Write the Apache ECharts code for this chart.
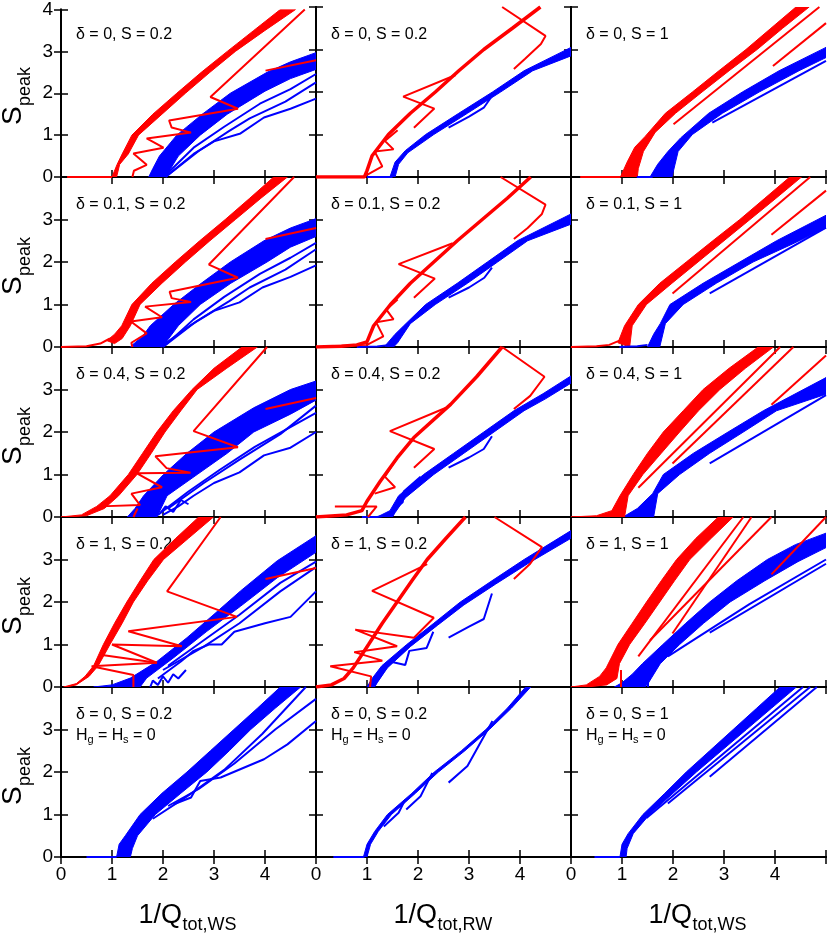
<!DOCTYPE html>
<html>
<head>
<meta charset="utf-8">
<script src="https://cdn.jsdelivr.net/npm/echarts@6/dist/echarts.min.js"></script>
<style>
html, body { margin: 0; padding: 0; background: #fff; }
#main { width: 830px; height: 937px; }
</style>
</head>
<body>
<div id="main"></div>
<script>
// tick values and labels
var xTicks = [0, 1, 2, 3, 4];
var yTicks = [0, 1, 2, 3, 4];
var xTitleSubs = ['tot,WS', 'tot,RW', 'tot,WS'];
var panelText = [
  'δ = 0, S = 0.2', 'δ = 0, S = 0.2', 'δ = 0, S = 1',
  'δ = 0.1, S = 0.2', 'δ = 0.1, S = 0.2', 'δ = 0.1, S = 1',
  'δ = 0.4, S = 0.2', 'δ = 0.4, S = 0.2', 'δ = 0.4, S = 1',
  'δ = 1, S = 0.2', 'δ = 1, S = 0.2', 'δ = 1, S = 1',
  'δ = 0, S = 0.2', 'δ = 0, S = 0.2', 'δ = 0, S = 1'
];

// ---- row 1 (delta = 0) ----
var bR11 = [[1.0,0],[1.1,0.3],[1.2,0.55],[1.39,1.0],[1.8,1.5],[2.27,2.0],[2.75,2.5],[3.26,3.0],[3.78,3.5],[4.3,4.0],[4.6,4.0],[4.0,3.5],[3.42,3.0],[2.92,2.5],[2.44,2.0],[1.98,1.5],[1.52,1.0],[1.32,0.55],[1.15,0.3],[1.09,0]];
var lR11 = [[[0.12,0],[1.0,0]], [[4.78,4.0],[2.93,1.91],[3.47,1.63],[2.12,1.35],[2.17,1.18],[2.55,1.06],[1.68,0.92],[2.01,0.7],[1.42,0.56],[1.68,0.29],[1.43,0.15],[1.4,0]], [[4.01,2.54],[5,2.79]]];
var bB11 = [[1.72,0],[1.8,0.2],[1.93,0.5],[2.27,1.0],[2.77,1.5],[3.32,2.0],[4.04,2.5],[4.5,2.75],[5,2.97],[5,2.57],[4.5,2.35],[4.0,2.05],[3.26,1.5],[2.73,1.0],[2.3,0.5],[2.15,0.2],[2.08,0]];
var lB11 = [[[2.1,0.1],[2.6,0.7],[3.2,1.2],[3.9,1.75],[4.5,2.1],[5,2.46]], [[2.1,0.05],[2.7,0.62],[3.3,1.1],[3.7,1.4],[4.4,1.8],[5,2.26]], [[2.05,0],[2.6,0.55],[3.0,0.85],[3.52,1.04],[3.98,1.42],[4.5,1.63],[5,1.87]]];

var mR12 = [[0,0],[0.95,0],[1.0,0.15],[1.1,0.5],[1.42,1.0],[1.85,1.5],[2.34,2.0],[2.8,2.5],[3.29,3.0],[3.85,3.5],[4.4,4.0]];
var lR12 = [[[3.88,2.54],[4.1,2.78],[4.41,3.13],[4.5,3.32],[3.65,4.0]], [[1.92,1.16],[2.32,1.61],[1.71,1.89],[2.74,2.4]], [[1.0,0.05],[1.3,0.25],[1.15,0.6],[1.52,0.65],[1.35,0.85],[1.6,1.1]]];
var bB12 = [[1.45,0],[1.55,0.35],[1.75,0.62],[2.15,1.0],[2.8,1.5],[3.46,2.0],[4.08,2.5],[5,3.05],[5,2.85],[4.25,2.5],[3.62,2.0],[2.97,1.5],[2.31,1.0],[1.8,0.57],[1.62,0.3],[1.55,0]];
var lB12 = [[[1.0,0],[1.5,0]], [[2.6,1.16],[3.0,1.42],[3.29,1.63],[3.43,1.87]]];

var bR13 = [[0.97,0],[1.1,0.35],[1.25,0.7],[1.45,0.95],[1.85,1.5],[2.38,2.0],[2.9,2.5],[3.43,3.0],[3.92,3.5],[4.41,4.0],[4.67,4.0],[4.15,3.5],[3.65,3.0],[3.1,2.5],[2.57,2.0],[2.05,1.5],[1.65,1.05],[1.42,0.6],[1.32,0.2],[1.3,0]];
var lR13 = [[[0.18,0],[0.97,0]], [[2.01,1.24],[4.87,4.0]], [[3.96,2.61],[5,3.62]]];
var bB13 = [[1.55,0],[1.7,0.3],[1.9,0.6],[2.15,0.92],[2.7,1.5],[3.36,2.0],[4.08,2.5],[5,3.05],[5,2.81],[4.47,2.5],[3.69,2.0],[2.97,1.5],[2.38,1.0],[2.1,0.6],[1.98,0]];
var lB13 = [[[1.29,0],[1.6,0]], [[2.77,1.28],[5,2.73]]];

// ---- row 2 (delta = 0.1) ----
var bR21 = [[0.9,0.15],[1.05,0.3],[1.19,0.5],[1.39,1.0],[1.78,1.5],[2.24,2.0],[2.72,2.5],[3.22,3.0],[3.7,3.5],[4.17,4.0],[4.44,4.0],[3.92,3.5],[3.42,3.0],[2.92,2.5],[2.44,2.0],[1.98,1.5],[1.55,1.0],[1.36,0.5],[1.2,0.2],[1.05,0.08]];
var lR21 = [[[0,0],[0.5,0.02],[0.77,0.08],[0.96,0.2]], [[4.57,4.0],[2.9,1.94],[3.47,1.63],[2.13,1.3],[2.17,1.15],[2.55,1.06],[1.65,0.95],[1.98,0.7],[1.37,0.6],[1.68,0.32],[1.38,0.1],[1.4,0]], [[4.01,2.54],[5,2.8]]];
var bB21 = [[1.35,0],[1.6,0.25],[1.75,0.5],[2.21,1.0],[2.75,1.5],[3.32,2.0],[3.98,2.5],[4.5,2.8],[5,3.02],[5,2.6],[4.5,2.35],[4.04,2.0],[3.33,1.5],[2.73,1.0],[2.3,0.5],[2.05,0.1],[2.0,0]];
var lB21 = [[[2.05,0.05],[2.6,0.65],[3.2,1.18],[3.9,1.72],[4.5,2.1],[5,2.45]], [[2.0,0],[2.65,0.6],[3.3,1.08],[3.7,1.4],[4.4,1.82],[5,2.3]], [[1.95,0],[2.55,0.52],[3.0,0.85],[3.5,1.05],[3.95,1.4],[4.5,1.65],[5,1.92]]];

var mR22 = [[0,0],[0.5,0.02],[0.8,0.05],[1.0,0.12],[1.13,0.5],[1.46,1.0],[1.85,1.5],[2.31,2.0],[2.77,2.5],[3.26,3.0],[3.75,3.5],[4.21,4.0]];
var lR22 = [[[3.88,2.54],[4.15,2.8],[4.43,3.13],[4.5,3.35],[3.62,4.0]], [[1.92,1.16],[2.33,1.61],[1.62,1.95],[2.68,2.44]], [[0.2,0.02],[1.0,0.05],[1.32,0.25],[1.18,0.58],[1.52,0.65],[1.38,0.88],[1.6,1.12]]];
var bB22 = [[1.35,0.02],[1.55,0.3],[1.72,0.5],[2.15,1.0],[2.77,1.5],[3.36,2.0],[3.95,2.5],[5,3.13],[5,2.89],[4.15,2.5],[3.56,2.0],[2.97,1.5],[2.34,1.0],[1.85,0.55],[1.6,0.1],[1.52,0]];
var lB22 = [[[0.8,0],[1.2,0.01],[1.45,0.05]], [[2.6,1.16],[3.0,1.4],[3.3,1.63],[3.45,1.87]]];

var bR23 = [[0.92,0.1],[1.05,0.5],[1.32,1.0],[1.74,1.5],[2.26,2.0],[2.78,2.5],[3.31,3.0],[3.8,3.5],[4.29,4.0],[4.52,4.0],[4.02,3.5],[3.51,3.0],[3.0,2.5],[2.49,2.0],[1.98,1.5],[1.48,1.0],[1.2,0.5],[1.15,0]];
var lR23 = [[[0,0],[0.5,0.02],[0.75,0.05],[0.95,0.15]], [[1.99,1.26],[4.69,4.0]], [[3.93,2.64],[5,3.68]]];
var bB23 = [[1.5,0],[1.62,0.3],[1.75,0.55],[1.94,1.0],[2.59,1.5],[3.31,2.0],[4.03,2.5],[5,3.1],[5,2.8],[4.3,2.4],[3.57,2.0],[2.85,1.5],[2.2,1.0],[1.85,0.55],[1.74,0]];
var lB23 = [[[0.95,0],[1.3,0.02],[1.5,0.05]], [[2.72,1.26],[5,2.81]]];

// ---- row 3 (delta = 0.4) ----
var bR31 = [[0,0],[0.4,0.05],[0.7,0.25],[0.96,0.5],[1.32,1.0],[1.6,1.5],[1.88,2.0],[2.2,2.5],[2.57,3.0],[3.0,3.5],[3.55,4.0],[3.85,4.0],[3.25,3.5],[2.67,3.0],[2.35,2.5],[2.04,2.0],[1.77,1.5],[1.49,1.0],[1.13,0.5],[0.85,0.2],[0.5,0.03],[0.1,0]];
var lR31 = [[[4.04,4.0],[2.6,2.02],[3.47,1.64],[1.85,1.43],[2.07,1.15],[2.54,1.04],[1.48,1.03],[1.98,0.7],[1.38,0.55],[1.55,0.28],[0.77,0.25]], [[4.01,2.54],[5,2.8]], [[1.5,0.2],[1.42,0]]];
var bB31 = [[1.3,0],[1.45,0.2],[1.62,0.5],[2.01,1.0],[2.47,1.5],[3.0,2.0],[3.78,2.57],[4.5,3.0],[5,3.2],[5,2.75],[4.5,2.42],[3.78,2.0],[3.26,1.5],[2.67,1.0],[2.08,0.5],[1.88,0]];
var lB31 = [[[1.9,0.05],[2.5,0.6],[3.1,1.1],[3.8,1.65],[4.4,2.05],[5,2.45]], [[2.1,0.2],[2.8,0.8],[3.5,1.35],[4.3,1.95],[5,2.62]], [[2.0,0.05],[2.3,0.25],[2.6,0.5],[3.0,0.8],[3.5,1.05],[3.98,1.45],[4.5,1.63],[5,2.0]], [[1.95,0.1],[2.05,0.25],[2.2,0.12],[2.35,0.4],[2.5,0.3]]];

var mR32 = [[0,0],[0.6,0.05],[0.9,0.15],[1.0,0.37],[1.26,0.84],[1.59,1.39],[1.92,1.87],[2.64,2.65],[3.15,3.3],[3.65,4.0]];
var lR32 = [[[3.88,2.54],[4.2,2.85],[4.48,3.3],[3.65,4.0]], [[1.92,1.16],[2.32,1.6],[1.45,2.02],[2.55,2.57]], [[0.37,0.25],[1.19,0.25],[1.02,0]], [[1.15,0.55],[1.55,0.7],[1.35,0.95],[1.59,1.39]]];
var bB32 = [[1.2,0],[1.45,0.15],[1.62,0.5],[2.11,1.0],[2.7,1.5],[3.29,2.0],[3.88,2.5],[4.45,2.9],[5,3.32],[5,3.15],[4.5,2.78],[4.08,2.5],[3.49,2.0],[2.9,1.5],[2.31,1.0],[1.75,0.45],[1.55,0.1],[1.5,0]];
var lB32 = [[[0.9,0],[1.2,0],[1.45,0.05]], [[2.6,1.16],[3.0,1.4],[3.29,1.6],[3.45,1.9]], [[1.45,0.1],[1.7,0.35],[1.72,0.6],[2.05,0.95]]];

var bR33 = [[0,0],[0.5,0.03],[0.8,0.15],[0.96,0.5],[1.22,1.0],[1.5,1.5],[1.81,2.0],[2.2,2.5],[2.59,3.0],[3.1,3.5],[3.67,4.0],[3.97,4.0],[3.42,3.5],[2.92,3.0],[2.5,2.5],[2.13,2.0],[1.77,1.5],[1.41,1.0],[1.12,0.5],[1.05,0],[0.6,0]];
var lR33 = [[[1.32,0.69],[4.1,4.0]], [[1.99,1.26],[4.36,4.0]], [[3.93,2.64],[5,3.8]]];
var bB33 = [[1.02,0],[1.3,0.2],[1.6,0.55],[1.81,1.0],[2.4,1.5],[3.08,2.0],[3.77,2.5],[5,3.28],[5,2.89],[4.03,2.5],[3.38,2.0],[2.72,1.5],[2.13,1.0],[1.7,0.55],[1.62,0]];
var lB33 = [[[2.72,1.26],[5,2.87]], [[1.6,0],[1.6,0.35]]];

// ---- row 4 (delta = 1) ----
var bR41 = [[0.05,0],[0.3,0.08],[0.47,0.25],[0.64,0.5],[0.83,1.0],[1.05,1.5],[1.29,2.0],[1.55,2.5],[1.82,3.0],[2.25,3.5],[2.7,4.0],[2.99,4.0],[2.5,3.5],[2.01,3.0],[1.7,2.5],[1.42,2.0],[1.2,1.5],[0.96,1.0],[0.73,0.5],[0.55,0.25],[0.3,0.05],[0.1,0]];
var lR41 = [[[1.42,0],[1.42,0.28],[0.6,0.49],[1.88,0.57],[1.0,1.0],[2.37,0.96],[1.32,1.31],[3.45,1.65],[2.08,2.25],[3.13,4.0]], [[0.77,0.76],[1.88,0.57]], [[4.01,2.54],[5,2.8]]];
var bB41 = [[0.64,0],[1.0,0.05],[1.36,0.21],[1.88,0.6],[2.47,1.16],[3.0,1.71],[3.52,2.26],[4.24,2.97],[5,3.56],[5,3.17],[4.24,2.57],[3.52,1.9],[2.86,1.31],[2.21,0.69],[1.68,0.21],[1.55,0]];
var lB41 = [[[2.1,0.5],[2.8,1.1],[3.5,1.7],[4.3,2.45],[5,2.95]], [[2.0,0.4],[2.8,0.95],[3.5,1.5],[4.3,2.25],[5,2.82]], [[1.9,0.2],[2.35,0.6],[2.6,0.85],[2.9,1.0],[3.15,1.0],[3.4,1.3],[4.0,1.5],[4.5,1.65],[5,2.25]], [[1.75,0],[1.8,0.15],[1.9,0.05],[2.0,0.25],[2.1,0.1],[2.2,0.3],[2.3,0.2],[2.45,0.4]]];

var mR42 = [[0,0],[0.3,0.05],[0.55,0.2],[0.73,0.45],[1.03,1.0],[1.3,1.5],[1.59,2.0],[1.88,2.5],[2.18,3.0],[2.55,3.5],[2.93,4.0]];
var lR42 = [[[3.88,2.54],[4.2,2.9],[4.43,3.29],[3.5,4.0]], [[1.06,0],[1.08,0.25],[0.28,0.49],[1.3,0.62],[0.75,0.82],[1.59,0.96],[0.77,1.35],[1.92,1.16],[2.31,1.63],[1.1,2.26],[2.18,2.89]]];
var bB42 = [[1.0,0],[1.1,0.2],[1.29,0.5],[1.78,1.0],[2.31,1.5],[2.83,2.0],[3.45,2.5],[4.08,3.0],[5,3.68],[5,3.5],[4.15,2.9],[3.52,2.42],[2.9,1.93],[2.38,1.45],[1.85,0.95],[1.4,0.45],[1.2,0.1],[1.15,0]];
var lB42 = [[[2.6,1.16],[3.0,1.42],[3.29,1.6],[3.45,2.2]], [[1.15,0.05],[1.45,0.6],[1.75,0.52],[1.83,0.85],[2.17,0.92],[2.3,1.3]]];

var bR43 = [[0,0],[0.3,0.05],[0.56,0.25],[0.69,0.45],[0.92,1.0],[1.2,1.5],[1.48,2.0],[1.77,2.5],[2.07,3.0],[2.45,3.5],[2.89,4.0],[3.18,4.0],[2.75,3.5],[2.33,3.0],[2.03,2.5],[1.74,2.0],[1.45,1.5],[1.15,1.0],[0.95,0.55],[0.9,0.2],[0.7,0.05],[0.3,0]];
var lR43 = [[[1.32,0.72],[3.38,4.0]], [[1.99,1.26],[3.54,4.0]], [[1.55,1.1],[3.93,4.0]], [[3.93,2.65],[5,4.0]], [[0.98,0],[0.98,0.4]]];
var bB43 = [[0.85,0],[1.0,0.1],[1.2,0.3],[1.4,0.55],[1.8,1.0],[2.25,1.5],[2.72,2.0],[3.25,2.5],[3.85,3.0],[4.4,3.35],[5,3.62],[5,3.28],[4.45,2.95],[3.8,2.5],[3.12,2.0],[2.6,1.5],[2.13,1.0],[1.75,0.55],[1.52,0.1],[1.45,0]];
var lB43 = [[[1.9,0.72],[3.5,1.95],[5,3.0]], [[2.72,1.28],[5,2.9]], [[1.51,0],[1.51,0.33]]];

// ---- row 5 (Hg = Hs = 0) ----
var bB51 = [[1.09,0],[1.14,0.3],[1.26,0.5],[1.55,1.0],[1.98,1.5],[2.47,2.0],[2.93,2.5],[3.39,3.0],[3.85,3.5],[4.3,4.0],[4.7,4.0],[4.2,3.5],[3.72,3.0],[3.3,2.5],[2.86,2.0],[2.35,1.5],[1.85,1.0],[1.5,0.5],[1.4,0.2],[1.36,0]];
var lB51 = [[[0.5,0],[1.09,0]], [[1.8,0.9],[2.5,1.45],[3.2,2.05],[3.95,2.9],[4.8,4.0]], [[2.1,1.2],[2.7,1.6],[3.4,2.2],[4.2,3.0],[5,3.72]], [[2.21,1.24],[2.55,1.4],[2.73,1.79],[3.13,1.87],[3.98,2.3],[4.44,2.65],[5,3.2]]];

var bB52 = [[0.93,0],[1.0,0.3],[1.15,0.6],[1.4,1.0],[1.88,1.5],[2.32,2.0],[2.85,2.5],[3.33,3.0],[3.75,3.5],[4.11,4.0],[4.21,4.0],[3.83,3.5],[3.4,3.0],[2.92,2.5],[2.4,2.0],[1.95,1.5],[1.48,1.0],[1.22,0.6],[1.07,0.3],[1.0,0]];
var lB52 = [[[0.34,0],[0.95,0]], [[1.33,0.72],[1.62,1.04],[1.75,1.35]], [[1.77,1.12],[2.05,1.43],[2.28,1.98]], [[2.6,1.75],[2.97,2.14],[3.46,3.2]]];

var bB53 = [[0.96,0],[1.0,0.3],[1.12,0.55],[1.41,1.0],[1.84,1.5],[2.26,2.0],[2.72,2.5],[3.18,3.0],[3.64,3.5],[4.1,4.0],[4.42,4.0],[3.93,3.5],[3.44,3.0],[2.95,2.5],[2.46,2.0],[2.0,1.5],[1.54,1.0],[1.22,0.55],[1.1,0.2],[1.08,0]];
var lB53 = [[[0.46,0],[0.96,0]], [[1.48,0.92],[4.55,4.0]], [[1.9,1.26],[4.69,4.0]], [[2.72,1.89],[4.82,4.0]]];

// panel order: row by row, left to right
var blueBands = [bB11, bB12, bB13, bB21, bB22, bB23, bB31, bB32, bB33, bB41, bB42, bB43, bB51, bB52, bB53];
var blueLines = [lB11, lB12, lB13, lB21, lB22, lB23, lB31, lB32, lB33, lB41, lB42, lB43, lB51, lB52, lB53];
var redBands = [bR11, null, bR13, bR21, null, bR23, bR31, null, bR33, bR41, null, bR43, null, null, null];
var redMains = [null, mR12, null, null, mR22, null, null, mR32, null, null, mR42, null, null, null, null];
var redLines = [lR11, lR12, lR13, lR21, lR22, lR23, lR31, lR32, lR33, lR41, lR42, lR43, [], [], []];

var RED = '#ff0000', BLUE = '#0000ff';
var FF = 'Liberation Sans, Arial, sans-serif';
var L = 61, T = 7, W = 255, H = 170;

var chart = echarts.init(document.getElementById('main'));

var grids = [], xAxes = [], yAxes = [], series = [], graphics = [];
var frame = { lineStyle: { color: '#000', width: 2 } };
var ticks = { inside: true, length: 7, lineStyle: { color: '#000', width: 1.5 } };

for (var r = 0; r < 5; r++) {
  for (var c = 0; c < 3; c++) {
    grids.push({ left: L + c * W, top: T + r * H, width: W, height: H });
  }
}

// bottom/left axes carry the series, top/right axes mirror the ticks
function xAxisFor(i, pos, labels) {
  return {
    type: 'value', gridIndex: i, position: pos, min: 0, max: 5, interval: 1,
    axisLine: frame, axisTick: ticks, splitLine: { show: false },
    axisLabel: {
      show: labels, color: '#000', fontSize: 19, fontFamily: FF, margin: 8,
      formatter: function (v) { return xTicks.indexOf(v) >= 0 ? String(v) : ''; }
    }
  };
}
function yAxisFor(i, pos, labels, row) {
  return {
    type: 'value', gridIndex: i, position: pos, min: 0, max: 4, interval: 1,
    axisLine: frame, axisTick: ticks, splitLine: { show: false },
    axisLabel: {
      show: labels, color: '#000', fontSize: 19, fontFamily: FF, margin: 8,
      formatter: function (v) {
        if (yTicks.indexOf(v) < 0) return '';
        if (v === 4 && row > 0) return '';
        return String(v);
      }
    }
  };
}

for (var i = 0; i < 15; i++) {
  var row = Math.floor(i / 3), col = i % 3;
  xAxes[i] = xAxisFor(i, 'bottom', row === 4);
  xAxes[15 + i] = xAxisFor(i, 'top', false);
  yAxes[i] = yAxisFor(i, 'left', col === 0, row);
  yAxes[15 + i] = yAxisFor(i, 'right', false, row);
}

function bandSeries(i, pts, color) {
  return {
    type: 'custom', xAxisIndex: i, yAxisIndex: i, data: [[0, 0]],
    silent: true, animation: false, clip: true,
    renderItem: function (params, api) {
      return {
        type: 'polygon',
        shape: { points: pts.map(function (p) { return api.coord(p); }) },
        style: { fill: color, stroke: color, lineWidth: 1 }
      };
    }
  };
}
function lineSeries(i, pts, color, width) {
  return {
    type: 'line', xAxisIndex: i, yAxisIndex: i, data: pts,
    symbol: 'none', silent: true, animation: false, clip: true,
    lineStyle: { color: color, width: width }
  };
}

for (var i = 0; i < 15; i++) {
  series.push(bandSeries(i, blueBands[i], BLUE));
  blueLines[i].forEach(function (ln) { series.push(lineSeries(i, ln, BLUE, 2)); });
  if (redBands[i]) series.push(bandSeries(i, redBands[i], RED));
  if (redMains[i]) series.push(lineSeries(i, redMains[i], RED, 3.5));
  redLines[i].forEach(function (ln) { series.push(lineSeries(i, ln, RED, 2)); });
}

// panel annotations
for (var i = 0; i < 15; i++) {
  var row = Math.floor(i / 3), col = i % 3;
  var px = L + col * W + 15, py = T + row * H + 20;
  graphics.push({ type: 'text', x: px, y: py, silent: true,
    style: { text: panelText[i], font: '16px ' + FF, fill: '#000' } });
  if (row === 4) {
    graphics.push({ type: 'group', x: px, y: py + 21, silent: true, children: [
      { type: 'text', x: 0, y: 0, style: { text: 'H', font: '16px ' + FF, fill: '#000' } },
      { type: 'text', x: 11.5, y: 6, style: { text: 'g', font: '11px ' + FF, fill: '#000' } },
      { type: 'text', x: 17.5, y: 0, style: { text: ' = H', font: '16px ' + FF, fill: '#000' } },
      { type: 'text', x: 47, y: 6, style: { text: 's', font: '11px ' + FF, fill: '#000' } },
      { type: 'text', x: 52.5, y: 0, style: { text: ' = 0', font: '16px ' + FF, fill: '#000' } }
    ] });
  }
}

// y titles (S_peak), rotated
for (var r = 0; r < 5; r++) {
  graphics.push({ type: 'group', x: 13, y: T + r * H + 88, rotation: Math.PI / 2, silent: true, children: [
    { type: 'text', x: -30, y: 0, style: { text: 'S', font: '28px ' + FF, fill: '#000', verticalAlign: 'middle' } },
    { type: 'text', x: -11, y: 12, style: { text: 'peak', font: '18px ' + FF, fill: '#000', verticalAlign: 'middle' } }
  ] });
}

// x titles (1/Q_tot,..)
for (var c = 0; c < 3; c++) {
  var cx = L + c * W + W / 2;
  graphics.push({ type: 'group', x: cx - 50, y: 916, silent: true, children: [
    { type: 'text', x: 0, y: 0, style: { text: '1/Q', font: '27px ' + FF, fill: '#000', verticalAlign: 'middle' } },
    { type: 'text', x: 44, y: 9, style: { text: xTitleSubs[c], font: '18px ' + FF, fill: '#000', verticalAlign: 'middle' } }
  ] });
}

chart.setOption({
  backgroundColor: '#fff',
  animation: false,
  grid: grids,
  xAxis: xAxes,
  yAxis: yAxes,
  series: series,
  graphic: graphics
});
</script>
</body>
</html>
